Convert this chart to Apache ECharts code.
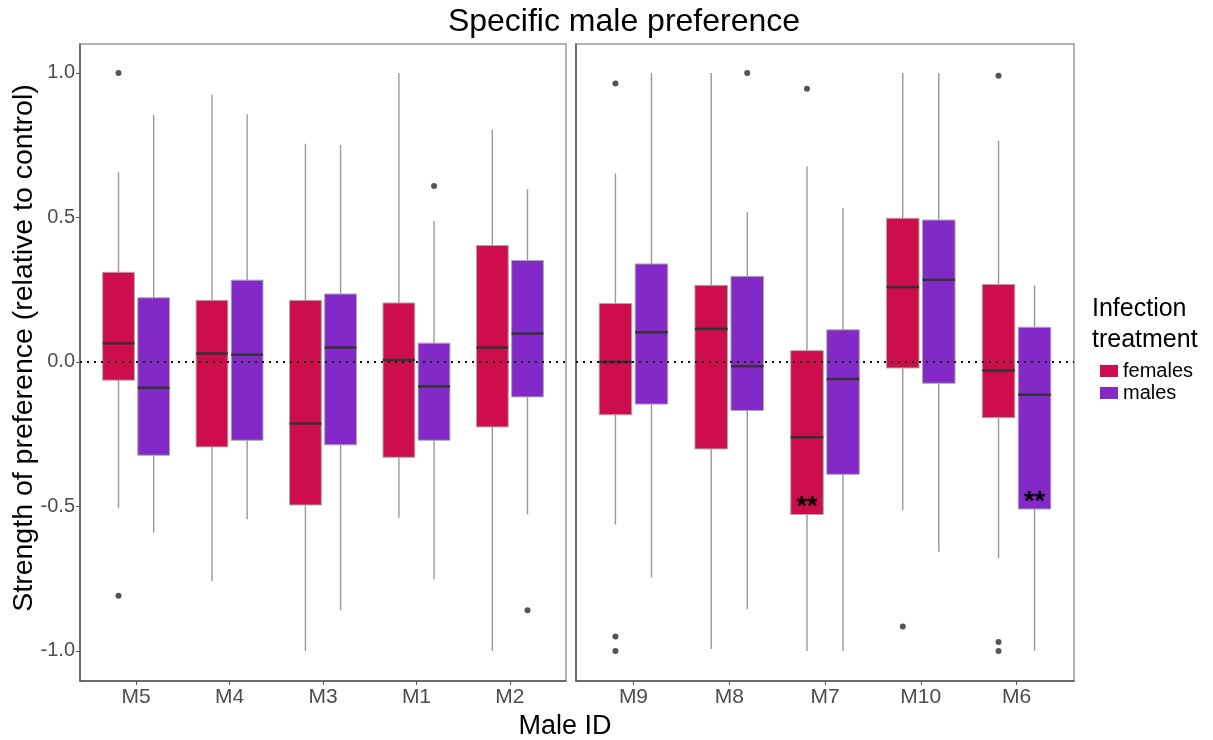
<!DOCTYPE html>
<html>
<head>
<meta charset="UTF-8">
<title>Specific male preference</title>
<script src="https://cdn.jsdelivr.net/npm/echarts@6/dist/echarts.min.js"></script>
<style>
	html, body { margin: 0; padding: 0; background: #fff; }
	#main { width: 1213px; height: 740px; }
</style>
</head>
<body>
<div id="main"></div>
<script>
	// categories of each facet
	const maleIdsLeft = ['M5', 'M4', 'M3', 'M1', 'M2'];
	const maleIdsRight = ['M9', 'M8', 'M7', 'M10', 'M6'];

	// box stats per category: [lower whisker, Q1, median, Q3, upper whisker]
	const femalesLeft = [
		[-0.506, -0.063, 0.065, 0.310, 0.656],
		[-0.758, -0.294, 0.029, 0.213, 0.924],
		[-1.000, -0.495, -0.213, 0.213, 0.755],
		[-0.539, -0.330, 0.007, 0.204, 1.000],
		[-1.000, -0.225, 0.050, 0.403, 0.804]
	];
	const malesLeft = [
		[-0.591, -0.323, -0.089, 0.222, 0.855],
		[-0.544, -0.271, 0.025, 0.283, 0.857],
		[-0.859, -0.287, 0.050, 0.235, 0.751],
		[-0.752, -0.271, -0.085, 0.065, 0.488],
		[-0.527, -0.121, 0.098, 0.351, 0.598]
	];
	const femalesRight = [
		[-0.563, -0.183, 0.000, 0.202, 0.652],
		[-0.993, -0.301, 0.114, 0.265, 1.000],
		[-1.000, -0.528, -0.261, 0.039, 0.676],
		[-0.513, -0.021, 0.259, 0.497, 1.000],
		[-0.679, -0.193, -0.030, 0.268, 0.765]
	];
	const malesRight = [
		[-0.746, -0.146, 0.103, 0.339, 1.000],
		[-0.855, -0.168, -0.015, 0.296, 0.518],
		[-1.000, -0.389, -0.059, 0.111, 0.532],
		[-0.657, -0.074, 0.284, 0.491, 1.000],
		[-1.000, -0.509, -0.114, 0.120, 0.265]
	];

	// outliers per category
	const outFemalesLeft = [[1.000, -0.809], [], [], [], []];
	const outMalesLeft = [[], [], [], [0.609], [-0.859]];
	const outFemalesRight = [[0.963, -0.950, -1.000], [], [0.945], [-0.915], [0.990, -0.969, -1.000]];
	const outMalesRight = [[], [1.000], [], [], []];

	// significance marks: [facet, category, group, y position]
	const sigMarks = [
		[1, 'M7', 'females', -0.505],
		[1, 'M6', 'males', -0.485]
	];

	const yTicks = [-1, -0.5, 0, 0.5, 1];

	const groupColors = {females: '#CE0E4C', males: '#8229C8'};
	const groupOffset = {females: -0.188, males: 0.188};
	const BOX_W = 0.34;
	const FONT = 'Liberation Sans';

	let myChart = echarts.init(document.getElementById('main'));

	function boxData(stats){
		return stats.map((s, i) => [i + 1].concat(s));
	}

	function outlierData(list, group){
		let arr = [];
		list.forEach((vals, i) => {
			vals.forEach(v => arr.push([i + 1 + groupOffset[group], v]));
		});
		return arr;
	}

	function renderBox(group){
		return function(params, api){
			let x = api.value(0) + groupOffset[group];
			let cx = api.coord([x, 0])[0];
			let half = api.size([BOX_W, 0])[0] / 2;
			let yLo = api.coord([x, api.value(1)])[1];
			let yQ1 = api.coord([x, api.value(2)])[1];
			let yMed = api.coord([x, api.value(3)])[1];
			let yQ3 = api.coord([x, api.value(4)])[1];
			let yHi = api.coord([x, api.value(5)])[1];
			let whisker = {stroke: '#999', lineWidth: 1.4};
			return {
				type: 'group',
				children: [
					{type: 'line', shape: {x1: cx, y1: yHi, x2: cx, y2: yQ3}, style: whisker},
					{type: 'line', shape: {x1: cx, y1: yQ1, x2: cx, y2: yLo}, style: whisker},
					{type: 'rect', shape: {x: cx - half, y: yQ3, width: half * 2, height: yQ1 - yQ3},
						style: {fill: groupColors[group], stroke: '#aaa', lineWidth: 1}},
					{type: 'line', shape: {x1: cx - half, y1: yMed, x2: cx + half, y2: yMed},
						style: {stroke: '#333', lineWidth: 2.5}}
				]
			};
		};
	}

	function boxSeries(name, group, stats, idx){
		return {
			name: name,
			type: 'custom',
			xAxisIndex: idx,
			yAxisIndex: idx,
			itemStyle: {color: groupColors[group]},
			encode: {x: 0, y: [1, 2, 3, 4, 5]},
			renderItem: renderBox(group),
			data: boxData(stats),
			silent: true
		};
	}

	function outlierSeries(list, group, idx){
		return {
			type: 'scatter',
			xAxisIndex: idx,
			yAxisIndex: idx,
			symbolSize: 6,
			itemStyle: {color: '#2a2a2a'},
			data: outlierData(list, group),
			z: 4,
			silent: true,
			markLine: {
				silent: true,
				symbol: 'none',
				label: {show: false},
				lineStyle: {type: [2, 5], color: '#111', width: 2},
				data: [{yAxis: 0}]
			}
		};
	}

	function xAxisFor(names, idx){
		return {
			type: 'value',
			gridIndex: idx,
			min: 0.4,
			max: 5.6,
			splitLine: {show: false},
			axisLine: {show: true, onZero: false, lineStyle: {color: '#555', width: 1.5}},
			axisTick: {show: true, length: 4, customValues: [1, 2, 3, 4, 5], lineStyle: {color: '#555'}},
			axisLabel: {
				customValues: [1, 2, 3, 4, 5],
				margin: 6,
				fontFamily: FONT,
				fontSize: 21,
				color: '#4d4d4d',
				formatter: v => names[Math.round(v) - 1]
			}
		};
	}

	function yAxisFor(idx){
		return {
			type: 'value',
			gridIndex: idx,
			min: -1.104,
			max: 1.1,
			splitLine: {show: false},
			axisLine: {show: true, onZero: false, lineStyle: {color: '#555', width: 1.5}},
			axisTick: {show: idx == 0, length: 4, customValues: yTicks, lineStyle: {color: '#555'}},
			axisLabel: {
				show: idx == 0,
				customValues: yTicks,
				margin: 5,
				fontFamily: FONT,
				fontSize: 20,
				color: '#4d4d4d',
				formatter: v => v.toFixed(1)
			}
		};
	}

	let sigSeries = {
		type: 'custom',
		xAxisIndex: 1,
		yAxisIndex: 1,
		z: 6,
		silent: true,
		encode: {x: 0, y: 1},
		data: sigMarks.map(m => [maleIdsRight.indexOf(m[1]) + 1 + groupOffset[m[2]], m[3]]),
		renderItem: function(params, api){
			let p = api.coord([api.value(0), api.value(1)]);
			return {
				type: 'text',
				x: p[0],
				y: p[1],
				style: {text: '**', font: 'bold 27px ' + FONT, fill: '#000', align: 'center', verticalAlign: 'middle'}
			};
		}
	};

	myChart.setOption({
		animation: false,
		grid: [
			{left: 80, top: 44, width: 486, height: 637, show: true, borderColor: '#999', borderWidth: 1.5},
			{left: 576, top: 44, width: 498, height: 637, show: true, borderColor: '#999', borderWidth: 1.5}
		],
		xAxis: [xAxisFor(maleIdsLeft, 0), xAxisFor(maleIdsRight, 1)],
		yAxis: [yAxisFor(0), yAxisFor(1)],
		legend: {
			orient: 'vertical',
			left: 1095,
			top: 356,
			itemWidth: 18,
			itemHeight: 12,
			itemGap: 2,
			icon: 'rect',
			data: ['females', 'males'],
			textStyle: {fontFamily: FONT, fontSize: 20, color: '#000'}
		},
		graphic: [
			{type: 'text', x: 624, y: 22, style: {text: 'Specific male preference', font: '32px ' + FONT, fill: '#000', align: 'center', verticalAlign: 'middle'}},
			{type: 'text', x: 565, y: 727, style: {text: 'Male ID', font: '27px ' + FONT, fill: '#000', align: 'center', verticalAlign: 'middle'}},
			{type: 'text', x: 24, y: 348, rotation: Math.PI / 2, style: {text: 'Strength of preference (relative to control)', font: '28.5px ' + FONT, fill: '#000', align: 'center', verticalAlign: 'middle'}},
			{type: 'text', x: 1092, y: 309, style: {text: 'Infection', font: '25px ' + FONT, fill: '#000', align: 'left', verticalAlign: 'middle'}},
			{type: 'text', x: 1092, y: 340, style: {text: 'treatment', font: '25px ' + FONT, fill: '#000', align: 'left', verticalAlign: 'middle'}}
		],
		series: [
			boxSeries('females', 'females', femalesLeft, 0),
			boxSeries('males', 'males', malesLeft, 0),
			boxSeries('females', 'females', femalesRight, 1),
			boxSeries('males', 'males', malesRight, 1),
			outlierSeries(outFemalesLeft, 'females', 0),
			outlierSeries(outMalesLeft, 'males', 0),
			outlierSeries(outFemalesRight, 'females', 1),
			outlierSeries(outMalesRight, 'males', 1),
			sigSeries
		]
	});
</script>
</body>
</html>
